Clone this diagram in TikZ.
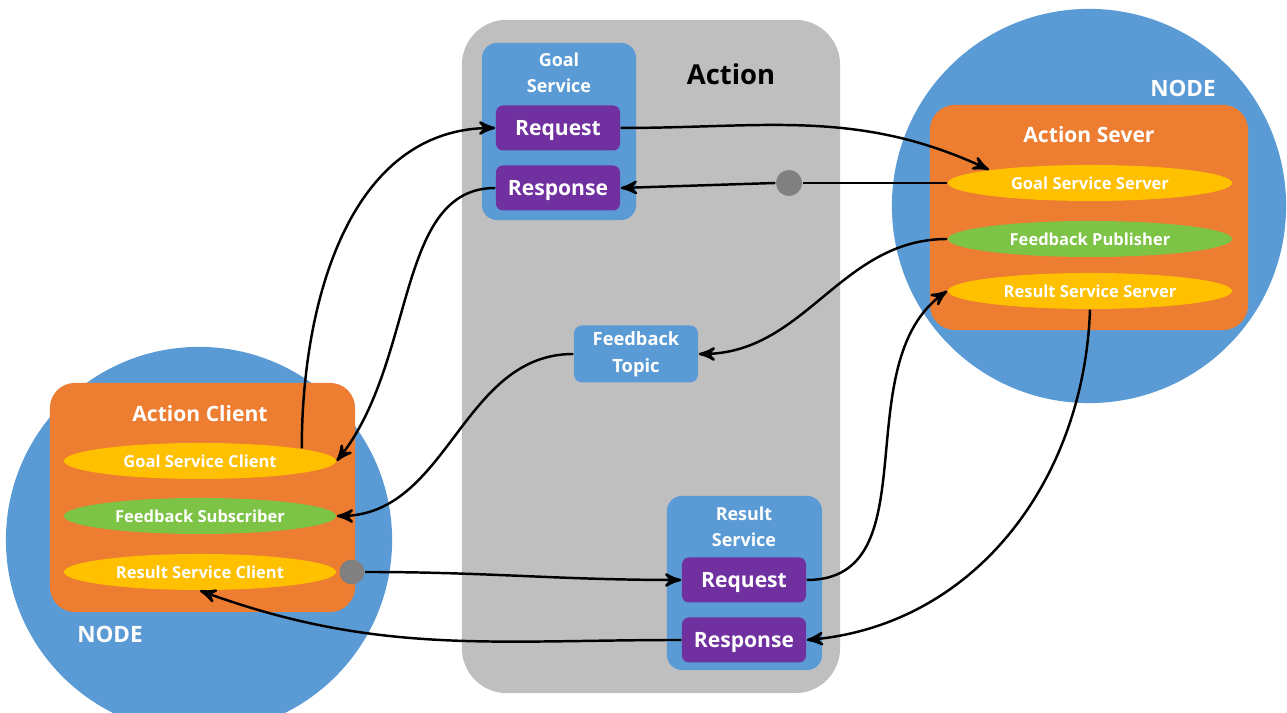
\documentclass[tikz,border=0pt]{standalone}
\usepackage{fontspec}
\setmainfont{Open Sans}
\usetikzlibrary{arrows,shapes.geometric,positioning}
\definecolor{actgray}{HTML}{BFBFBF}
\definecolor{nodeblue}{HTML}{5B9BD5}
\definecolor{endorange}{HTML}{ED7D31}
\definecolor{msgpurple}{HTML}{7030A0}
\definecolor{ovalyellow}{HTML}{FFC000}
\definecolor{ovalgreen}{RGB}{125,195,70}
\definecolor{knobgray}{HTML}{808080}
\tikzset{
    >=stealth',
    rosnode/.style={
           circle,
           fill=nodeblue,
           inner sep=0pt},
    actionbox/.style={
           rectangle,
           fill=actgray,
           rounded corners=0.45cm,
           inner sep=0pt},
    srvbox/.style={
           rectangle,
           fill=nodeblue,
           rounded corners=0.15cm,
           inner sep=0pt},
    endbox/.style={
           rectangle,
           fill=endorange,
           rounded corners=0.25cm,
           inner sep=0pt},
    msgbox/.style={
           rectangle,
           fill=msgpurple,
           rounded corners=0.07cm,
           minimum width=1.24cm,
           minimum height=0.45cm,
           inner sep=0pt,
           text depth=0pt,
           text=white,
           font=\bfseries\fontsize{6}{7}\selectfont},
    oval/.style={
           ellipse,
           minimum height=0.36cm,
           inner sep=0pt,
           text=white,
           font=\bfseries\fontsize{4.7}{5.5}\selectfont},
    title/.style={
           text=white,
           font=\bfseries\fontsize{6}{7}\selectfont},
    twoline/.style={
           align=center,
           text=white,
           font=\bfseries\fontsize{5.1}{7.4}\selectfont},
    knob/.style={
           circle,
           fill=knobgray,
           minimum size=0.25cm,
           inner sep=0pt},
    flow/.style={
           ->,
           line width=0.7pt}
}
\begin{document}
\begin{tikzpicture}[x=0.01cm, y=0.01cm]
    \useasboundingbox (0,0) rectangle (1287,713);
    \clip (0,0) rectangle (1287,713);
        % the action in the middle
        \node[actionbox, minimum width=3.78cm, minimum height=6.73cm] (action) at (651,356.5) {};
        \node[font=\bfseries\fontsize{7.8}{9}\selectfont] (actionname) at (731,639) {Action};
        \node[srvbox, minimum width=1.54cm, minimum height=1.77cm] (goalsrv) at (559,581.5) {};
        \node[twoline] (goalname) at (559,640) {Goal\\Service};
        \node[msgbox] (goalreq) at (558,585) {Request};
        \node[msgbox] (goalres) at (558,525) {Response};
        \node[srvbox, rounded corners=0.08cm, minimum width=1.24cm, minimum height=0.57cm,
              twoline, font=\bfseries\fontsize{5.2}{7.6}\selectfont] (topic) at (636,359) {Feedback\\Topic};
        \node[srvbox, minimum width=1.55cm, minimum height=1.74cm] (resultsrv) at (744.5,130) {};
        \node[twoline] (resultname) at (744,186) {Result\\Service};
        \node[msgbox] (resultreq) at (744,133) {Request};
        \node[msgbox] (resultres) at (744,73) {Response};
        % server node
        \node[rosnode, minimum size=3.94cm] (srvnode) at (1089,507) {};
        \node[title, font=\bfseries\fontsize{6.4}{7}\selectfont] (srvnodename) at (1183,625) {NODE};
        \node[endbox, minimum width=3.18cm, minimum height=2.25cm] (server) at (1089,495.5) {};
        \node[title] (servername) at (1089,578) {Action Sever};
        \node[oval, fill=ovalyellow, minimum width=2.84cm] (gss) at (1090,530) {Goal Service Server};
        \node[oval, fill=ovalgreen, minimum width=2.84cm] (fbp) at (1090,474) {Feedback Publisher};
        \node[oval, fill=ovalyellow, minimum width=2.84cm] (rss) at (1090,422) {Result Service Server};
        % client node
        \node[rosnode, minimum size=3.86cm] (clinode) at (199,173) {};
        \node[title, font=\bfseries\fontsize{6.4}{7}\selectfont] (clinodename) at (110,79) {NODE};
        \node[endbox, minimum width=3.05cm, minimum height=2.29cm] (client) at (202.5,215.5) {};
        \node[title] (clientname) at (200,299) {Action Client};
        \node[oval, fill=ovalyellow, minimum width=2.72cm] (gsc) at (200,252) {Goal Service Client};
        \node[oval, fill=ovalgreen, minimum width=2.72cm] (fbs) at (200,197) {Feedback Subscriber};
        \node[oval, fill=ovalyellow, minimum width=2.72cm] (rsc) at (200,141) {Result Service Client};
        \node[knob] (clientknob) at (352,141) {};
        \node[knob, minimum size=0.26cm] (serverknob) at (789,530) {};
        % goal
        \draw[flow] (gsc.7) to[out=90, in=180] (goalreq.west);
        \draw[flow] (goalreq.east) to[out=0, in=155] (gss.north west);
        \draw[line width=0.7pt] (gss.west) -- (serverknob.east);
        \draw[flow] (serverknob.west) -- (goalres.east);
        \draw[flow] (goalres.west) .. controls +(-100,0) and +(80,100) .. (gsc.east);
        % feedback
        \draw[flow] (fbp.west) to[out=180, in=0] (topic.east);
        \draw[flow] (topic.west) to[out=180, in=0] (fbs.east);
        % result
        \draw[flow] (clientknob.east) to[out=0, in=180] (resultreq.west);
        \draw[flow] (resultreq.east) to[out=0, in=215] (rss.west);
        \draw[flow] (rss.south) to[out=-92, in=5] (resultres.east);
        \draw[flow] (resultres.west) to[out=180, in=-20] (rsc.south);
\end{tikzpicture}
\end{document}
